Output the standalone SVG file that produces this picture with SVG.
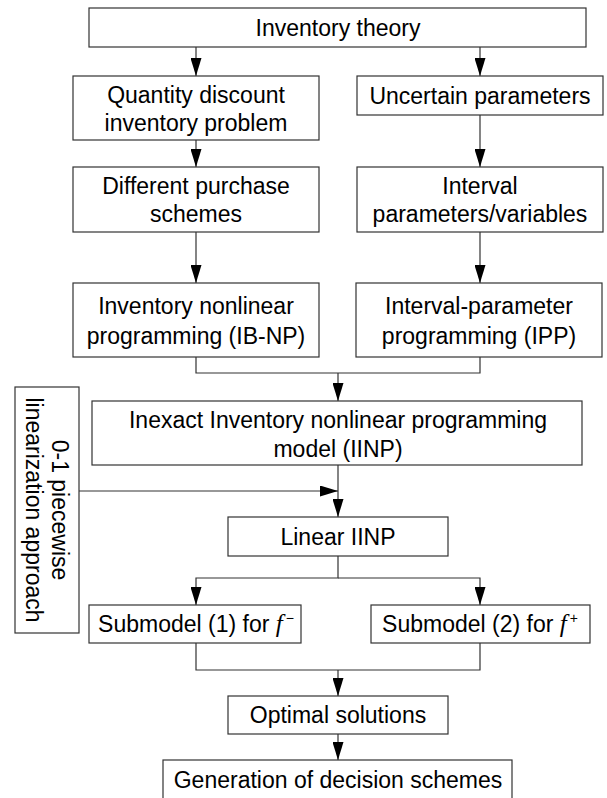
<svg xmlns="http://www.w3.org/2000/svg" width="607" height="798" viewBox="0 0 607 798">
<style>
.box{fill:#fff;stroke:#333;stroke-width:1.2}
.t{font-family:"Liberation Sans",Arial,sans-serif;font-size:23px;fill:#000;text-anchor:middle}
.c{fill:none;stroke:#333;stroke-width:1.2}
.f{font-family:"Liberation Serif","Times New Roman",serif;font-style:italic;font-size:25px}
.s{font-size:14px}
</style>
<defs>
<marker id="ah" viewBox="0 0 18 11" refX="18" refY="5.5" markerWidth="18" markerHeight="11" markerUnits="userSpaceOnUse" orient="auto">
<path d="M0,0 L18,5.5 L0,11 z" fill="#000"/>
</marker>
</defs>
<rect width="607" height="798" fill="#fff"/>
<g id="connectors">
<path class="c" d="M196,47 V76" marker-end="url(#ah)"/>
<path class="c" d="M480,47 V76" marker-end="url(#ah)"/>
<path class="c" d="M196,140 V167" marker-end="url(#ah)"/>
<path class="c" d="M480,115 V167" marker-end="url(#ah)"/>
<path class="c" d="M196,232 V283" marker-end="url(#ah)"/>
<path class="c" d="M480,232 V283" marker-end="url(#ah)"/>
<path class="c" d="M196,357 V373 H480 V357"/>
<path class="c" d="M338,373 V401" marker-end="url(#ah)"/>
<path class="c" d="M338,465 V517" marker-end="url(#ah)"/>
<path class="c" d="M79,491 H338" marker-end="url(#ah)"/>
<path class="c" d="M338,556 V578 H196 V605" marker-end="url(#ah)"/>
<path class="c" d="M338,578 H480 V605" marker-end="url(#ah)"/>
<path class="c" d="M196,643 V670 H480 V643"/>
<path class="c" d="M338,670 V696" marker-end="url(#ah)"/>
<path class="c" d="M338,734 V760" marker-end="url(#ah)"/>
</g>
<g id="inventory-theory">
<rect class="box" x="89" y="8" width="497" height="39"/>
<text class="t" x="338" y="36">Inventory theory</text>
</g>
<g id="quantity-discount">
<rect class="box" x="73" y="76" width="246" height="64"/>
<text class="t" x="196" y="103">Quantity discount</text>
<text class="t" x="196" y="131">inventory problem</text>
</g>
<g id="uncertain-parameters">
<rect class="box" x="357" y="76" width="246" height="39"/>
<text class="t" x="480" y="104">Uncertain parameters</text>
</g>
<g id="different-purchase">
<rect class="box" x="73" y="167" width="246" height="65"/>
<text class="t" x="196" y="194">Different purchase</text>
<text class="t" x="196" y="222">schemes</text>
</g>
<g id="interval-parameters">
<rect class="box" x="357" y="167" width="246" height="65"/>
<text class="t" x="480" y="194">Interval</text>
<text class="t" x="480" y="222">parameters/variables</text>
</g>
<g id="ib-np">
<rect class="box" x="73" y="283" width="246" height="74"/>
<text class="t" x="196" y="314">Inventory nonlinear</text>
<text class="t" x="196" y="344">programming (IB-NP)</text>
</g>
<g id="ipp">
<rect class="box" x="356" y="283" width="246" height="74"/>
<text class="t" x="479" y="314">Interval-parameter</text>
<text class="t" x="479" y="344">programming (IPP)</text>
</g>
<g id="iinp">
<rect class="box" x="92" y="401" width="490" height="64"/>
<text class="t" x="338" y="428">Inexact Inventory nonlinear programming</text>
<text class="t" x="338" y="457">model (IINP)</text>
</g>
<g id="linearization">
<rect class="box" x="15" y="387" width="64" height="246"/>
<text class="t" transform="translate(52,510) rotate(90)">0-1 piecewise</text>
<text class="t" transform="translate(26,510) rotate(90)">linearization approach</text>
</g>
<g id="linear-iinp">
<rect class="box" x="228" y="517" width="220" height="39"/>
<text class="t" x="338" y="545">Linear IINP</text>
</g>
<g id="submodel-1">
<rect class="box" x="89" y="605" width="212" height="38"/>
<text class="t" x="196" y="632">Submodel (1) for <tspan class="f">f</tspan><tspan class="s" dx="3" dy="-9">−</tspan></text>
</g>
<g id="submodel-2">
<rect class="box" x="371" y="605" width="219" height="38"/>
<text class="t" x="480" y="632">Submodel (2) for <tspan class="f">f</tspan><tspan class="s" dx="3" dy="-9">+</tspan></text>
</g>
<g id="optimal-solutions">
<rect class="box" x="228" y="696" width="220" height="38"/>
<text class="t" x="338" y="723">Optimal solutions</text>
</g>
<g id="decision-schemes">
<rect class="box" x="163" y="760" width="349" height="45"/>
<text class="t" x="338" y="788">Generation of decision schemes</text>
</g>
</svg>
